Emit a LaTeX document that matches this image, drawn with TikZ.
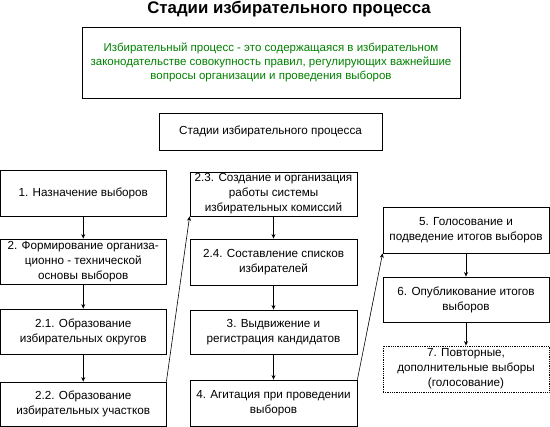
\documentclass[tikz,border=0pt]{standalone}
\usepackage{fontspec}
\setmainfont{Liberation Sans}
\usetikzlibrary{arrows.meta}
\definecolor{grn}{RGB}{0,128,0}
\begin{document}
\begin{tikzpicture}[x=1pt,y=-1pt,
  box/.style={draw,line width=0.8pt,align=center,inner sep=0pt,font=\fontsize{11.7}{15}\selectfont},
  arr/.style={-{Stealth[length=4.5pt,width=4pt]},line width=0.8pt},
  darr/.style={-{Stealth[length=4.5pt,width=4pt]},line width=0.6pt}]
\useasboundingbox (0,0) rectangle (550,427);
\node[font=\fontsize{16.8}{19}\selectfont\bfseries] (title) at (289,9) {Стадии избирательного процесса};
\node[box,text=grn,minimum width=378,minimum height=71,font=\fontsize{11.5}{14}\selectfont] (def) at (271,62.5)
 {Избирательный процесс - это содержащаяся в избирательном\\законодательстве совокупность правил, регулирующих важнейшие\\вопросы организации и проведения выборов};
\node[box,minimum width=223,minimum height=37] (st) at (270.5,131.5) {Стадии избирательного процесса};
% left column
\node[box,minimum width=165.5,minimum height=46] (b1) at (83.25,193) {1. Назначение выборов};
\node[box,minimum width=165.5,minimum height=45] (b2) at (83.25,261.5) {2. Формирование организа-\\ционно - технической\\основы выборов};
\node[box,minimum width=165.5,minimum height=45] (b21) at (83.25,331.5) {2.1. Образование\\избирательных округов};
\node[box,minimum width=165.5,minimum height=44] (b22) at (83.25,404) {2.2. Образование\\избирательных участков};
% middle column
\node[box,minimum width=167,minimum height=44] (b23) at (273.5,194) {2.3. Создание и организация\\работы системы\\избирательных комиссий};
\node[box,minimum width=167,minimum height=46] (b24) at (273.5,262) {2.4. Составление списков\\избирателей};
\node[box,minimum width=167,minimum height=44] (b3) at (273.5,332) {3. Выдвижение и\\регистрация кандидатов};
\node[box,minimum width=167,minimum height=46] (b4) at (273.5,403) {4. Агитация при проведении\\выборов};
% right column
\node[box,minimum width=166,minimum height=46] (b5) at (466,230) {5. Голосование и\\подведение итогов выборов};
\node[box,minimum width=166,minimum height=45] (b6) at (466,299.5) {6. Опубликование итогов\\выборов};
\node[box,densely dotted,minimum width=166,minimum height=46] (b7) at (466,369) {7. Повторные,\\дополнительные выборы\\(голосование)};
% connectors
\draw[arr] (b1) -- (b2);
\draw[arr] (b2) -- (b21);
\draw[arr] (b21) -- (b22);
\draw[arr] (b23) -- (b24);
\draw[arr] (b24) -- (b3);
\draw[arr] (b3) -- (b4);
\draw[arr] (b5) -- (b6);
\draw[arr] (b6) -- (b7);
\draw[darr] (b22.north east) -- (b23.south west);
\draw[darr] (b4.north east) -- (b5.south west);
\end{tikzpicture}
\end{document}
